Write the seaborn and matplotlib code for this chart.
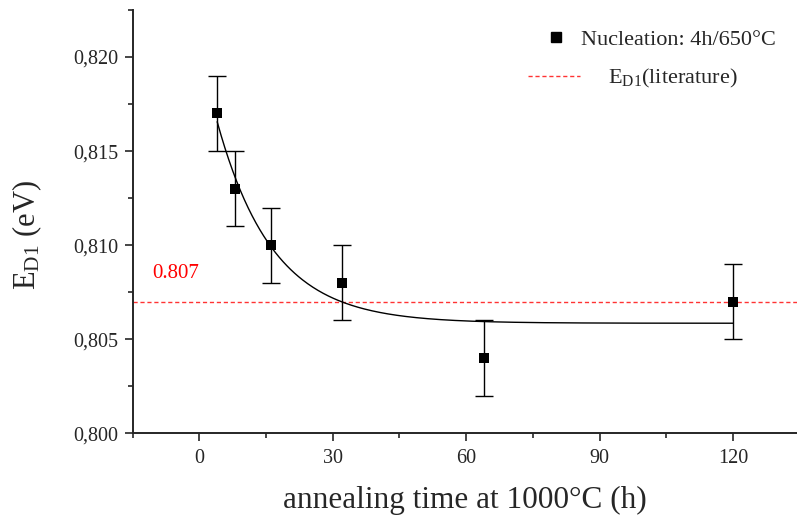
import numpy as np
import pandas as pd
import matplotlib
matplotlib.use("Agg")
import matplotlib.pyplot as plt
from matplotlib.ticker import MultipleLocator, FuncFormatter
from matplotlib.lines import Line2D
import seaborn as sns

# Measured activation energies vs. annealing time
time_h = [4, 8, 16, 32, 64, 120]
energy_ev = [0.817, 0.813, 0.810, 0.808, 0.804, 0.807]
energy_err = [0.002, 0.002, 0.002, 0.002, 0.002, 0.002]

# Exponential decay fit: y = y0 + A * exp(-t / tau)
fit_y0 = 0.80585
fit_amp = 0.01475
fit_tau = 12.5

# Literature value
lit_value = 0.807

RED = "#ff3333"

sns.set_theme(style="ticks")
plt.rcParams["font.family"] = ["Liberation Serif", "DejaVu Serif"]
plt.rcParams["mathtext.fontset"] = "custom"
plt.rcParams["mathtext.rm"] = "Liberation Serif"
plt.rcParams["mathtext.it"] = "Liberation Serif:italic"

W, H = 797, 517
fig = plt.figure(figsize=(W / 100, H / 100), dpi=100)
ax = fig.add_axes([132.7 / W, 1 - 433.3 / H, 1 - 132.7 / W, (433.3 - 10) / H])

df = pd.DataFrame({"t": time_h, "E": energy_ev, "err": energy_err})

t_fit = np.linspace(min(time_h), max(time_h), 400)
fit_df = pd.DataFrame({"t": t_fit, "E": fit_y0 + fit_amp * np.exp(-t_fit / fit_tau)})

ax.axhline(lit_value, color=RED, lw=1.0, ls=(0, (3, 2)), zorder=1)
sns.lineplot(data=fit_df, x="t", y="E", ax=ax, color="black", lw=1.0, zorder=2)
ax.errorbar(df["t"], df["E"], yerr=df["err"], fmt="none", ecolor="black",
            elinewidth=1.0, capsize=6.5, capthick=1.0, zorder=3)
sns.scatterplot(data=df, x="t", y="E", ax=ax, marker="s", s=52, color="black",
                edgecolor="black", linewidth=0, zorder=4)

ax.text(-10.6, 0.80848, f"{lit_value:.3f}", color="red", fontsize=15,
        va="center", ha="left")

ax.set_xlim(-15, 134.4)
ax.set_ylim(0.800, 0.8225)
ax.xaxis.set_major_locator(MultipleLocator(30))
ax.xaxis.set_minor_locator(MultipleLocator(15))
ax.yaxis.set_major_locator(MultipleLocator(0.005))
ax.yaxis.set_minor_locator(MultipleLocator(0.0025))
ax.yaxis.set_major_formatter(FuncFormatter(lambda v, p: f"{v:.3f}".replace(".", ",")))

ax.tick_params(which="major", direction="out", length=6, width=1.2, labelsize=14.5)
ax.tick_params(axis="x", which="major", pad=5)
ax.tick_params(axis="y", which="major", pad=4.5)
ax.tick_params(which="minor", direction="out", length=3.5, width=1.2)

for side in ("top", "right"):
    ax.spines[side].set_visible(False)
for side in ("left", "bottom"):
    ax.spines[side].set_linewidth(1.4)

ax.set_xlabel("annealing time at 1000°C (h)", fontsize=22.5)
ax.set_ylabel(r"E$_{\mathrm{D1}}$ (eV)", fontsize=22)
ax.xaxis.set_label_coords(0.5, -0.124)
ax.yaxis.set_label_coords(-0.133, 0.468)

fs = 16
h1 = Line2D([], [], marker="s", color="black", ls="none", markersize=7.2)
leg1 = fig.legend([h1], ["Nucleation: 4h/650°C"], loc="center left",
                  bbox_to_anchor=(545 / W, 1 - 40 / H), frameon=False, fontsize=fs,
                  borderpad=0, borderaxespad=0, handlelength=1.0, handletextpad=0.63)
h2 = Line2D([], [], color=RED, lw=1.0, ls=(0, (3, 2)))
leg2 = fig.legend([h2], [r"E$_{\mathrm{D1}}$(literature)"], loc="center left",
                  bbox_to_anchor=(528 / W, 1 - 78.5 / H), frameon=False, fontsize=fs,
                  borderpad=0, borderaxespad=0, handlelength=2.34, handletextpad=1.26)

fig.savefig("out.png", dpi=100)
